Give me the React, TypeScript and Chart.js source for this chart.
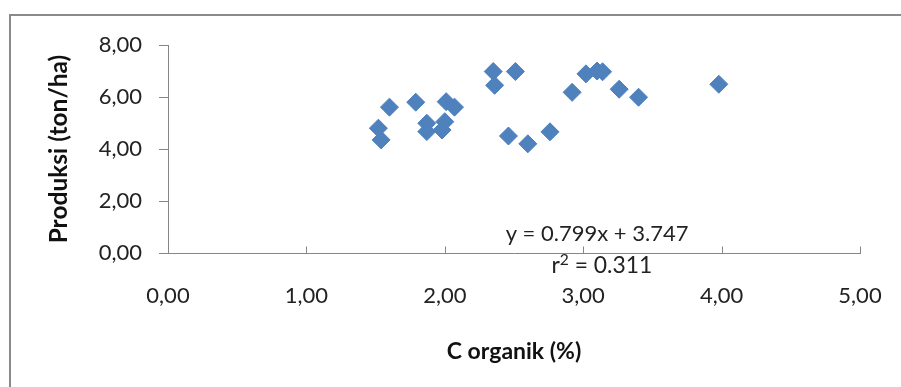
import React, { useEffect, useRef } from "react";
import { Chart, registerables } from "chart.js";

Chart.register(...registerables);

const cOrganik = [1.52, 1.54, 1.60, 1.79, 1.87, 1.87, 1.98, 2.00, 2.01, 2.07, 2.35, 2.36, 2.51, 2.46, 2.60, 2.76, 2.92, 3.02, 3.10, 3.14, 3.26, 3.40, 3.98];
const produksi = [4.80, 4.35, 5.61, 5.80, 4.99, 4.67, 4.73, 5.05, 5.82, 5.61, 6.98, 6.45, 6.98, 4.50, 4.20, 4.66, 6.18, 6.89, 7.00, 6.97, 6.30, 5.99, 6.49];
const xTickValues = [0, 1, 2, 3, 4, 5];
const yTickValues = [0, 2, 4, 6, 8];
const equationText = "y = 0.799x + 3.747";
const r2Prefix = "r";
const r2Sup = "2";
const r2Rest = " = 0.311";
const xTitle = "C organik (%)";
const yTitle = "Produksi (ton/ha)";

const FONT = "Lato, 'Open Sans', sans-serif";
const GRAY = "#868686";

const fmt = (v: number) => v.toFixed(2).replace(".", ",");

export default function App() {
  const ref = useRef<HTMLCanvasElement | null>(null);
  useEffect(() => {
    if (!ref.current) return;
    const extras = {
      id: "extras",
      beforeDraw(chart: any) {
        const ctx = chart.ctx;
        ctx.save();
        ctx.fillStyle = "#ffffff";
        ctx.fillRect(0, 0, chart.width, chart.height);
        ctx.strokeStyle = "#8a8a8a";
        ctx.lineWidth = 2;
        ctx.beginPath();
        ctx.moveTo(10, chart.height + 5);
        ctx.lineTo(10, 15);
        ctx.lineTo(chart.width + 5, 15);
        ctx.stroke();
        ctx.restore();
      },
      afterDraw(chart: any) {
        const ctx = chart.ctx;
        const xs = chart.scales.x;
        const ys = chart.scales.y;
        ctx.save();
        ctx.strokeStyle = GRAY;
        ctx.lineWidth = 1;
        const yb = Math.round(ys.getPixelForValue(0)) + 0.5;
        xTickValues.forEach((v) => {
          if (v === 0) return;
          const px = Math.round(xs.getPixelForValue(v)) + 0.5;
          ctx.beginPath();
          ctx.moveTo(px, yb);
          ctx.lineTo(px, yb - 7);
          ctx.stroke();
        });
        ctx.fillStyle = "#222";
        ctx.textBaseline = "alphabetic";
        ctx.font = `21px ${FONT}`;
        const eqW = ctx.measureText(equationText).width;
        const eqSize = Math.min(22, (21 * 193) / eqW);
        ctx.font = `${eqSize}px ${FONT}`;
        ctx.textAlign = "center";
        ctx.fillText(equationText, xs.getPixelForValue(3.1), ys.getPixelForValue(0.45));
        ctx.font = `22px ${FONT}`;
        const base1 = ctx.measureText(r2Prefix).width + ctx.measureText(r2Rest).width;
        ctx.font = `15px ${FONT}`;
        const base2 = ctx.measureText(r2Sup).width;
        const k = Math.min(1.1, 101 / (base1 + base2));
        const big = `${22 * k}px ${FONT}`;
        const small = `${15 * k}px ${FONT}`;
        ctx.font = big;
        const w1 = ctx.measureText(r2Prefix).width;
        const w3 = ctx.measureText(r2Rest).width;
        ctx.font = small;
        const w2 = ctx.measureText(r2Sup).width;
        const total = w1 + w2 + w3;
        const cx = xs.getPixelForValue(3.135);
        const by = ys.getPixelForValue(-0.76);
        let x0 = cx - total / 2;
        ctx.textAlign = "left";
        ctx.font = big;
        ctx.fillText(r2Prefix, x0, by);
        x0 += w1;
        ctx.font = small;
        ctx.fillText(r2Sup, x0, by - 8);
        x0 += w2;
        ctx.font = big;
        ctx.fillText(r2Rest, x0, by);
        ctx.restore();
      },
    };
    const chart = new Chart(ref.current, {
      type: "scatter",
      data: {
        datasets: [
          {
            data: cOrganik.map((x, i) => ({ x, y: produksi[i] })),
            pointStyle: "rectRot",
            pointRadius: 9,
            pointBackgroundColor: "#4F81BD",
            pointBorderColor: "#4F81BD",
            pointBorderWidth: 1,
          },
        ],
      },
      options: {
        responsive: false,
        animation: false,
        events: [],
        layout: { padding: { top: 45, right: 41, left: 0, bottom: 0 } },
        plugins: { legend: { display: false }, tooltip: { enabled: false } },
        scales: {
          x: {
            type: "linear",
            min: 0,
            max: 5,
            afterBuildTicks: (axis: any) => {
              axis.ticks = xTickValues.map((value) => ({ value }));
            },
            afterFit: (axis: any) => {
              axis.height = 134;
              axis.paddingLeft = 0;
              axis.paddingRight = 0;
            },
            grid: { display: false, drawTicks: false },
            border: { display: true, color: GRAY, width: 1 },
            ticks: {
              padding: 30,
              color: "#222",
              font: { family: FONT, size: 22 },
              callback: (v: any) => fmt(Number(v)),
              maxRotation: 0,
            },
            title: {
              display: true,
              text: xTitle,
              color: "#111",
              font: { family: FONT, size: 23, weight: "bold" },
              padding: { top: 0, bottom: 22 },
            },
          },
          y: {
            type: "linear",
            min: 0,
            max: 8,
            afterBuildTicks: (axis: any) => {
              axis.ticks = yTickValues.map((value) => ({ value }));
            },
            afterFit: (axis: any) => {
              axis.width = 168;
              axis.paddingTop = 0;
              axis.paddingBottom = 0;
            },
            grid: { display: true, drawOnChartArea: false, drawTicks: true, tickLength: 9, color: GRAY },
            border: { display: true, color: GRAY, width: 1 },
            ticks: {
              padding: 17,
              color: "#222",
              font: { family: FONT, size: 22 },
              callback: (v: any) => fmt(Number(v)),
            },
            title: {
              display: true,
              text: yTitle,
              color: "#111",
              font: { family: FONT, size: 24.5, weight: "bold" },
              padding: { top: 44, bottom: 0 },
            },
          },
        },
      },
      plugins: [extras],
    } as any);
    return () => chart.destroy();
  }, []);
  return (
    <div style={{ position: "fixed", left: 0, top: 0, width: 901, height: 387, background: "#fff" }}>
      <canvas ref={ref} width={901} height={387} style={{ display: "block" }} />
    </div>
  );
}
